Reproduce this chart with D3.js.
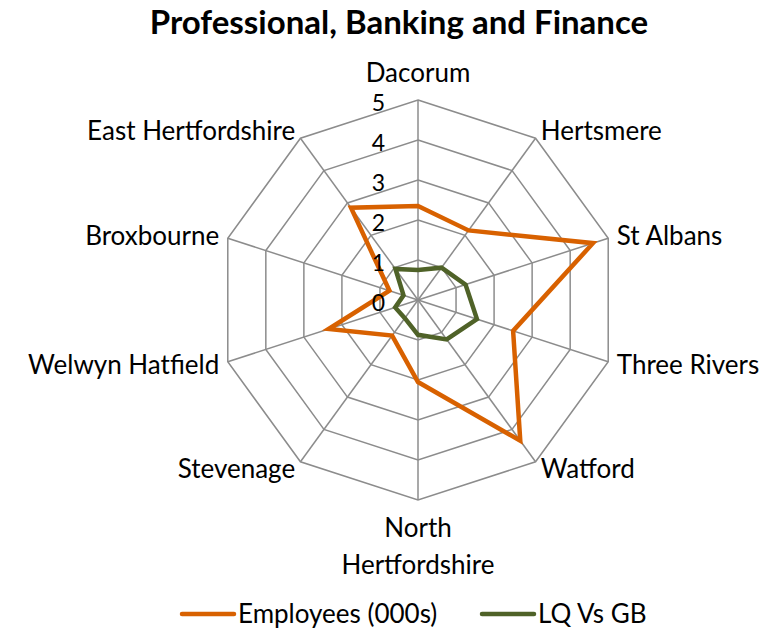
<!DOCTYPE html>
<html>
<head>
<meta charset="utf-8">
<title>Professional, Banking and Finance</title>
<style>
body { margin: 0; background: #fff; }
text { font-family: Lato, "Open Sans", sans-serif; fill: #000; }
.grid { fill: none; stroke: #8c8c8c; stroke-width: 1.5px; }
.spoke { stroke: #8c8c8c; stroke-width: 1.5px; }
.series { fill: none; stroke-width: 4.5px; stroke-linejoin: miter; }
</style>
</head>
<body>
<script src="https://cdn.jsdelivr.net/npm/d3@7"></script>
<script>

var districts = ["Dacorum", "Hertsmere", "St Albans", "Three Rivers", "Watford",
                 "North Hertfordshire", "Stevenage", "Welwyn Hatfield", "Broxbourne", "East Hertfordshire"];
var employees = [2.35, 2.15, 4.6, 2.5, 4.35, 2.05, 1.1, 2.35, 0.75, 2.85];
var lqVsGb    = [0.75, 1.0, 1.25, 1.55, 1.22, 0.87, 0.56, 0.6, 0.38, 0.96];
var ticks = [0, 1, 2, 3, 4, 5];
var seriesNames = ["Employees (000s)", "LQ Vs GB"];
var colors = ["#d86100", "#4f6228"];

var width = 780, height = 633;
var cx = 418, cy = 300, R = 200;

var svg = d3.select("body").append("svg")
    .attr("width", width)
    .attr("height", height);

var r = d3.scaleLinear().domain([0, 5]).range([0, R]);
var angle = d3.scaleLinear().domain([0, districts.length]).range([0, 2 * Math.PI]);

function pt(i, v) {
  var a = angle(i);
  return [cx + r(v) * Math.sin(a), cy - r(v) * Math.cos(a)];
}

// title
svg.append("text")
    .attr("x", 399).attr("y", 34)
    .attr("text-anchor", "middle")
    .attr("font-size", "33px")
    .attr("font-weight", 700)
    .text("Professional, Banking and Finance");

// web
var g = svg.append("g");
g.selectAll(".grid")
    .data(ticks.filter(d => d > 0))
    .enter().append("path")
    .attr("class", "grid")
    .attr("d", function(t) {
      return d3.line()(districts.map((d, i) => pt(i, t))) + "Z";
    });

g.selectAll(".spoke")
    .data(districts)
    .enter().append("line")
    .attr("class", "spoke")
    .attr("x1", cx).attr("y1", cy)
    .attr("x2", (d, i) => pt(i, 5)[0])
    .attr("y2", (d, i) => pt(i, 5)[1]);

// series
[employees, lqVsGb].forEach(function(vals, s) {
  svg.append("path")
      .attr("class", "series")
      .attr("stroke", colors[s])
      .attr("d", d3.line()(vals.map((v, i) => pt(i, v))) + "Z");
});

// tick labels
svg.selectAll(".tick")
    .data(ticks)
    .enter().append("text")
    .attr("class", "tick")
    .attr("x", cx - 33)
    .attr("y", t => cy - r(t) + 11)
    .attr("text-anchor", "end")
    .attr("font-size", "23px")
    .text(t => t);

// category labels
districts.forEach(function(name, i) {
  var a = angle(i);
  var sx = Math.sin(a), cyA = Math.cos(a);
  var x = cx + (R + 9) * sx, y = cy - (R + 9) * cyA;
  var anchor = Math.abs(sx) < 0.01 ? "middle" : (sx > 0 ? "start" : "end");
  var lines = name === "North Hertfordshire" ? ["North", "Hertfordshire"] : [name];
  if (Math.abs(sx) < 0.01) y += cyA > 0 ? -18 : 19;
  var t = svg.append("text")
      .attr("x", x).attr("y", y)
      .attr("text-anchor", anchor)
      .attr("font-size", "26px");
  lines.forEach(function(l, k) {
    t.append("tspan")
        .attr("x", x)
        .attr("dy", k === 0 ? "0.35em" : "1.42em")
        .text(l);
  });
});

// legend
var legendX = [182, 482];
seriesNames.forEach(function(n, s) {
  svg.append("line")
      .attr("x1", legendX[s]).attr("x2", legendX[s] + 52)
      .attr("y1", 614).attr("y2", 614)
      .attr("stroke", colors[s])
      .attr("stroke-width", 4.5)
      .attr("stroke-linecap", "round");
  svg.append("text")
      .attr("x", legendX[s] + 56).attr("y", 614)
      .attr("dy", "0.35em")
      .attr("font-size", "26px")
      .text(n);
});

</script>
</body>
</html>
